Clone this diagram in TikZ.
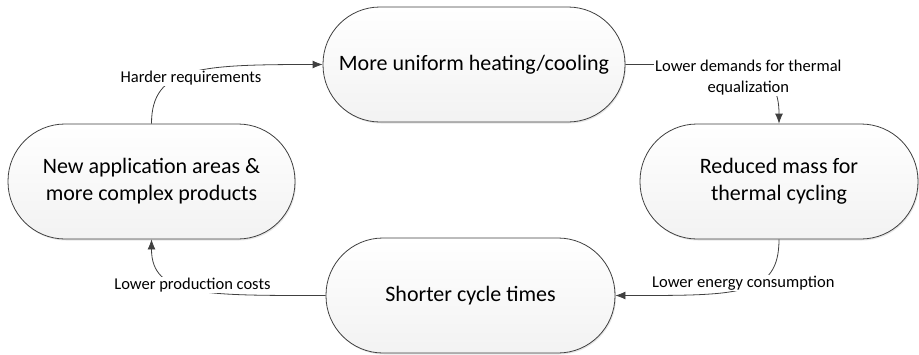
\documentclass[tikz,border=0pt]{standalone}
\usepackage{fontspec}
\setmainfont{Carlito}
\usepackage{tikz}
\usetikzlibrary{arrows.meta,shadows}
\definecolor{trait}{HTML}{404040}
\tikzstyle{bulle} = [rectangle, rounded corners=57pt, draw=trait, line width=0.8pt, top color=white, bottom color=gray!10, drop shadow={shadow xshift=1pt, shadow yshift=-1.5pt, opacity=0.2}, minimum height=115pt, align=center, font=\fontsize{22}{27}\selectfont]
\tikzstyle{legende} = [fill=white, inner sep=1pt, align=center, font=\fontsize{16.5}{21}\selectfont]
\tikzstyle{lien} = [draw=trait, line width=0.8pt, -{Latex[length=10pt,width=8pt]}]

\begin{document}
\begin{tikzpicture}[x=1pt, y=1pt]

        \useasboundingbox (0,0) rectangle (919,-354);

        \node (uniforme) [bulle, minimum width=302pt] at (474,-64.5) {More uniform heating/cooling};
        \node (nouveau) [bulle, minimum width=287pt] at (151.5,-181.5) {New application areas \&\\more complex products};
        \node (masse) [bulle, minimum width=278pt] at (779,-181.5) {Reduced mass for\\thermal cycling};
        \node (cycle) [bulle, minimum width=289pt] at (470.5,-295.5) {Shorter cycle times};

        \draw [lien] (nouveau.north) .. controls +(0,57) and +(-123,0) .. node [legende, pos=0.5, yshift=-5pt] {Harder requirements} (uniforme.west);
        \draw [lien] (uniforme.east) .. controls +(123,0) and +(0,57) .. node [legende, pos=0.5, yshift=-5pt] {Lower demands for thermal\\equalization} (masse.north);
        \draw [lien] (masse.south) .. controls +(0,-57) and +(123,0) .. node [legende, pos=0.5, yshift=6pt] {Lower energy consumption} (cycle.east);
        \draw [lien] (cycle.west) .. controls +(-123,0) and +(0,-57) .. node [legende, pos=0.5, yshift=4pt] {Lower production costs} (nouveau.south);

    \end{tikzpicture}
\end{document}
